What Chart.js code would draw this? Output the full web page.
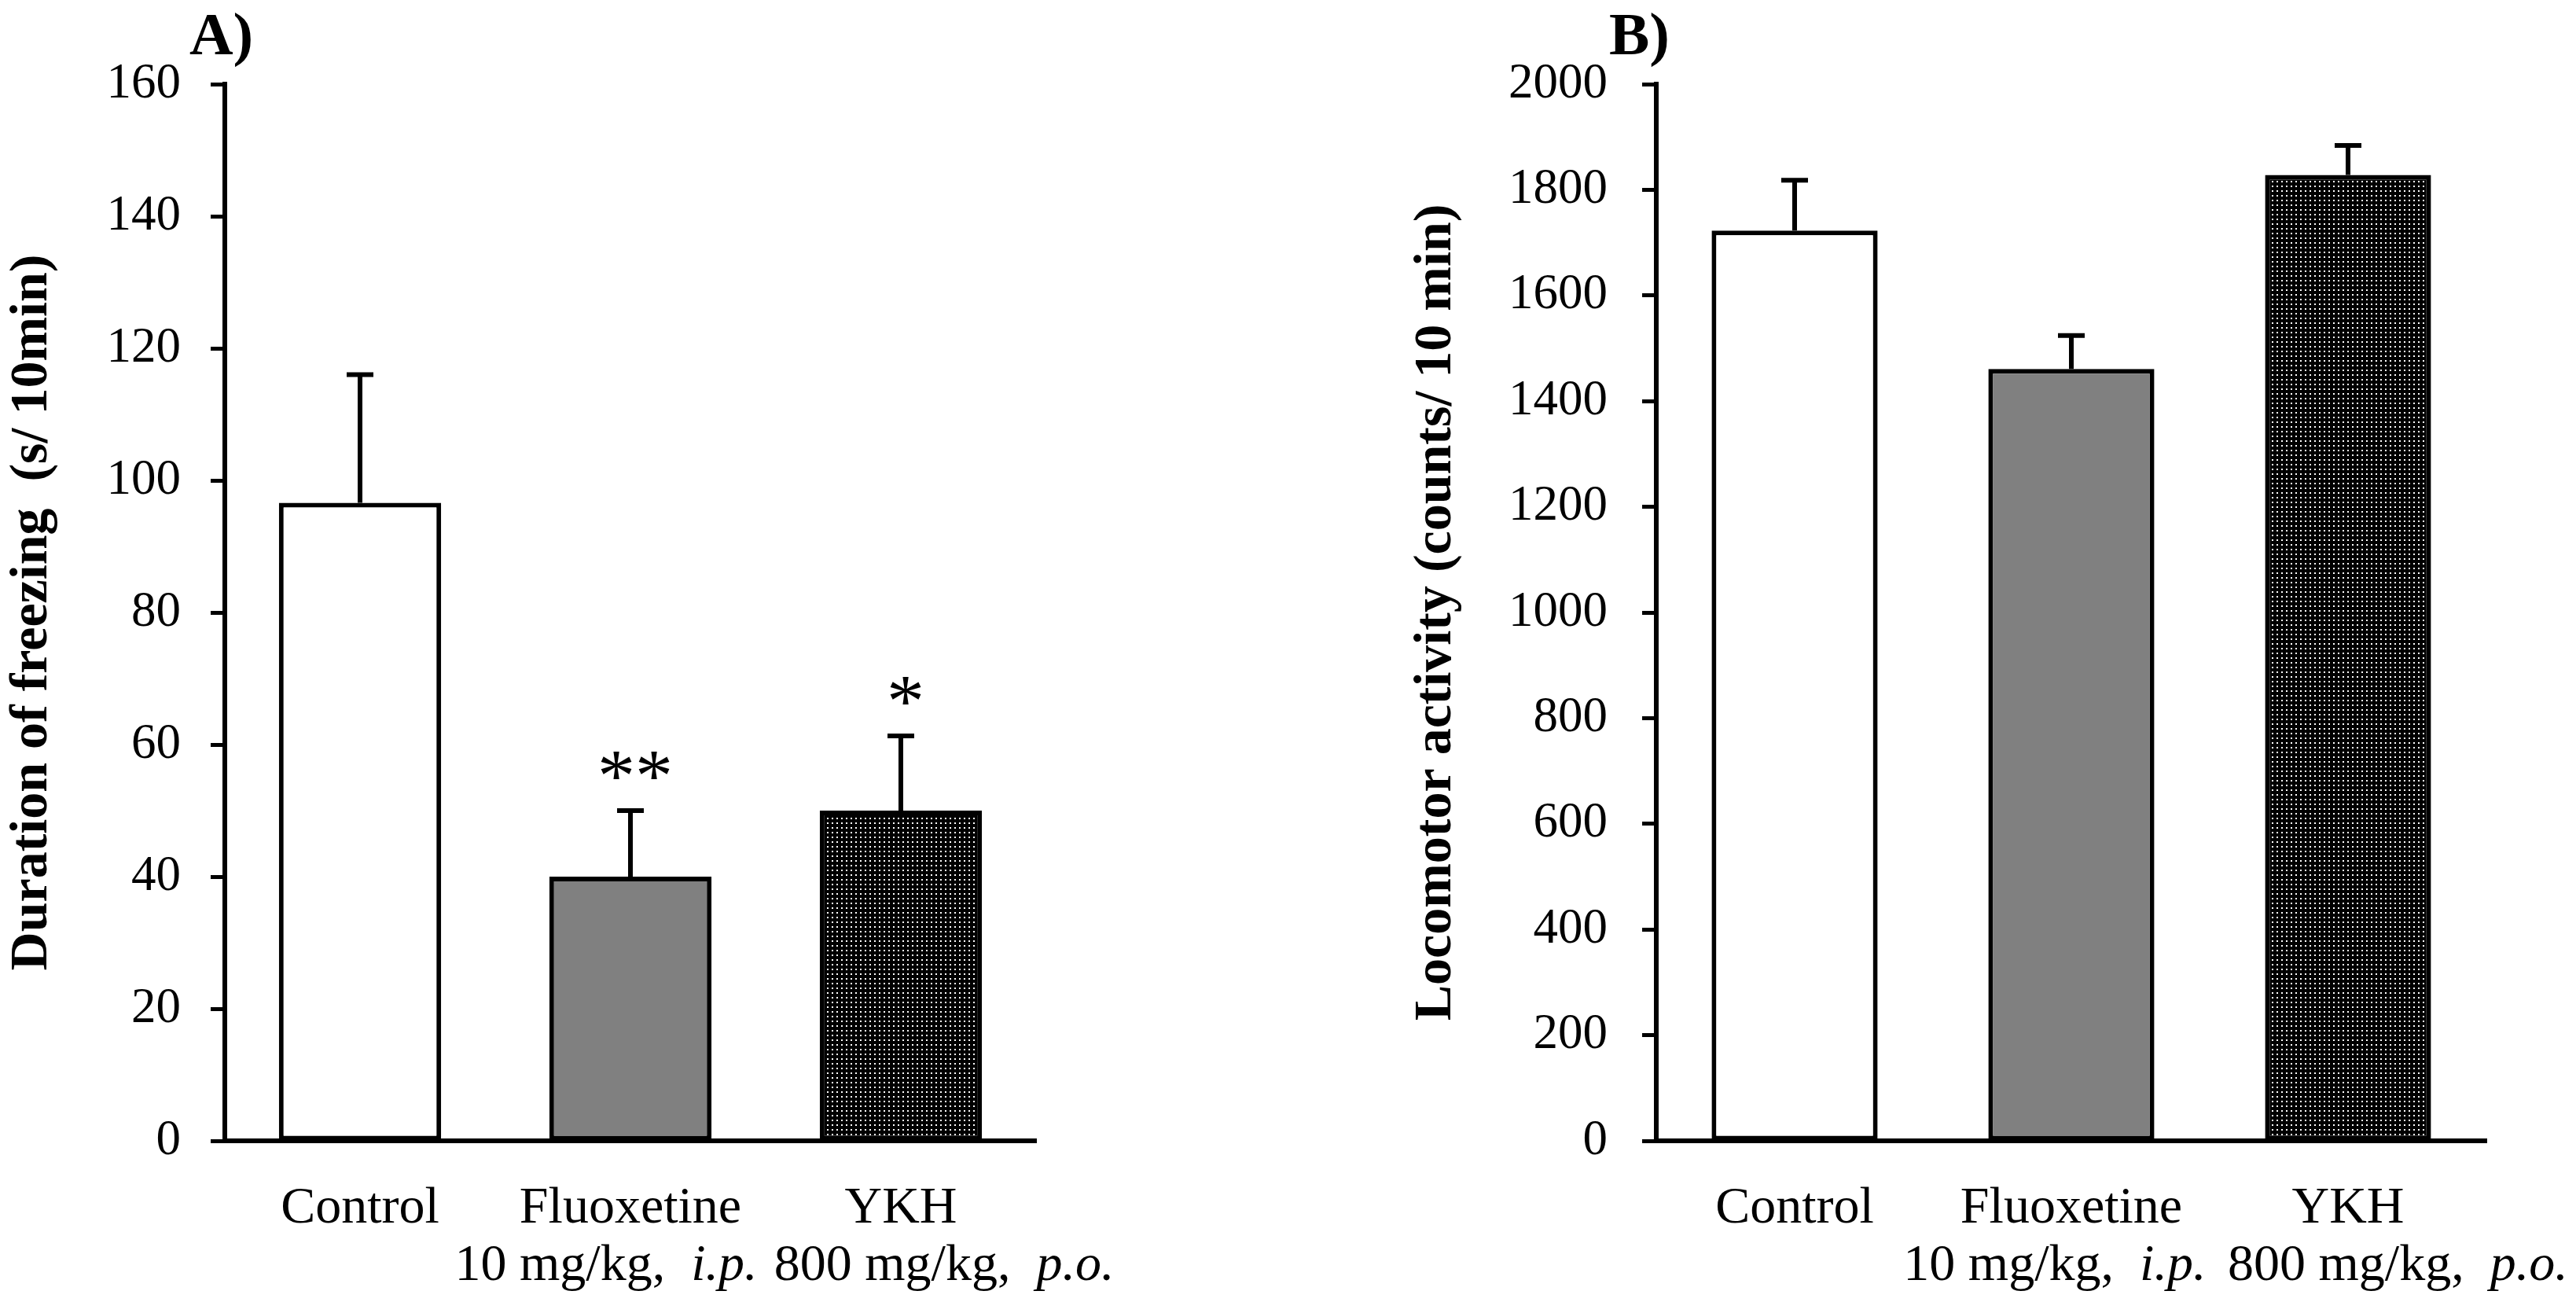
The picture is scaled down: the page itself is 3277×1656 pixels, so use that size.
<!DOCTYPE html>
<html>
<head>
<meta charset="utf-8">
<script src="https://cdn.jsdelivr.net/npm/chart.js@4.4.0/dist/chart.umd.min.js"></script>
<style>
  html, body { margin: 0; padding: 0; background: #fff; }
  #wrap { position: relative; width: 3277px; height: 1656px; background: #fff; }
  canvas { position: absolute; top: 0; }
  #chartA { left: 0; }
  #chartB { left: 1640px; }
</style>
</head>
<body>
<div id="wrap">
  <canvas id="chartA" width="1640" height="1656"></canvas>
  <canvas id="chartB" width="1637" height="1656"></canvas>
</div>
<script>
// groups (first line of the x labels) and dose line (second line)
const groups = ['Control', 'Fluoxetine', 'YKH'];
const doseText = ['', '10 mg/kg,  ', '800 mg/kg,  '];
const doseRoute = ['', 'i.p.', 'p.o.'];

// A) freezing duration
const freezeMean = [96.6, 40, 50];
const freezeSem = [19.4, 10, 11.3];
const freezeStars = ['', '**', '*'];
const freezeTicks = { min: 0, max: 160, step: 20 };

// B) locomotor activity
const locoMean = [1723, 1461, 1828];
const locoSem = [95, 63, 56];
const locoStars = ['', '', ''];
const locoTicks = { min: 0, max: 2000, step: 200 };

const SERIF = '"Liberation Serif", "Times New Roman", serif';

// dotted fill for the YKH bar
function dotPattern() {
    const c = document.createElement('canvas');
    c.width = 6;
    c.height = 6;
    const g = c.getContext('2d');
    g.fillStyle = '#000';
    g.fillRect(0, 0, 6, 6);
    g.fillStyle = '#fff';
    g.fillRect(2, 2, 2, 2);
    return g.createPattern(c, 'repeat');
}

// error bars (upper half only) + significance marks
const errorBarPlugin = {
    id: 'errorBars',
    afterDatasetsDraw(chart, args, opts) {
        const ctx = chart.ctx;
        const meta = chart.getDatasetMeta(0);
        const y = chart.scales.y;
        ctx.save();
        ctx.strokeStyle = '#000';
        ctx.lineWidth = 6;
        meta.data.forEach((bar, i) => {
            const top = y.getPixelForValue(opts.mean[i] + opts.sem[i]);
            const base = y.getPixelForValue(opts.mean[i]);
            ctx.beginPath();
            ctx.moveTo(bar.x, base);
            ctx.lineTo(bar.x, top);
            ctx.moveTo(bar.x - 17, top);
            ctx.lineTo(bar.x + 17, top);
            ctx.stroke();
            if (opts.stars[i]) {
                ctx.fillStyle = '#000';
                ctx.font = '96px ' + SERIF;
                ctx.textAlign = 'center';
                ctx.textBaseline = 'middle';
                ctx.fillText(opts.stars[i], bar.x + 6, top - 37);
            }
        });
        ctx.restore();
    }
};

// x labels with italic route, and the panel letter
const labelPlugin = {
    id: 'groupLabels',
    afterDraw(chart, args, opts) {
        const ctx = chart.ctx;
        const area = chart.chartArea;
        const x = chart.scales.x;
        const catW = (area.right - area.left) / groups.length;
        ctx.save();
        ctx.fillStyle = '#000';
        ctx.textBaseline = 'alphabetic';
        groups.forEach((g, i) => {
            const cx = x.getPixelForValue(i);
            ctx.font = '66px ' + SERIF;
            ctx.textAlign = 'center';
            ctx.fillText(g, cx, area.bottom + 104);
            if (doseText[i]) {
                const normal = '66px ' + SERIF;
                const ital = 'italic 66px ' + SERIF;
                ctx.font = normal;
                const w1 = ctx.measureText(doseText[i]).width;
                ctx.font = ital;
                const w2 = ctx.measureText(doseRoute[i]).width;
                const mid = cx + opts.shift[i] * catW;
                const left = mid - (w1 + w2) / 2;
                ctx.textAlign = 'left';
                ctx.font = normal;
                ctx.fillText(doseText[i], left, area.bottom + 177);
                ctx.font = ital;
                ctx.fillText(doseRoute[i], left + w1, area.bottom + 177);
            }
        });
        ctx.font = 'bold 77px ' + SERIF;
        ctx.textAlign = 'left';
        ctx.fillText(opts.letter, area.left + opts.letterDx, 69);
        ctx.restore();
    }
};

function makeChart(id, cfg) {
    const ctx = document.getElementById(id).getContext('2d');
    return new Chart(ctx, {
        type: 'bar',
        data: {
            labels: groups,
            datasets: [{
                data: cfg.mean,
                backgroundColor: ['#ffffff', '#808080', dotPattern()],
                borderColor: '#000',
                borderWidth: 6,
                borderSkipped: false,
                barPercentage: 0.6,
                categoryPercentage: 1.0
            }]
        },
        options: {
            responsive: false,
            animation: false,
            devicePixelRatio: 1,
            layout: {
                padding: { left: cfg.padLeft, right: cfg.padRight, top: 107, bottom: 0 }
            },
            plugins: {
                legend: { display: false },
                tooltip: { enabled: false },
                errorBars: { mean: cfg.mean, sem: cfg.sem, stars: cfg.stars },
                groupLabels: { letter: cfg.letter, letterDx: cfg.letterDx, shift: cfg.shift }
            },
            scales: {
                x: {
                    grid: { display: false },
                    border: { display: true, color: '#000', width: 6 },
                    ticks: { display: false },
                    afterFit: (s) => { s.height = 205; }
                },
                y: {
                    min: cfg.ticks.min,
                    max: cfg.ticks.max,
                    border: { display: true, color: '#000', width: 6 },
                    grid: {
                        drawOnChartArea: false,
                        drawTicks: true,
                        tickLength: 18,
                        tickWidth: 5,
                        tickColor: '#000'
                    },
                    ticks: {
                        stepSize: cfg.ticks.step,
                        color: '#000',
                        padding: cfg.tickPad,
                        font: { family: SERIF, size: 63 },
                        callback: (v) => String(v)
                    },
                    title: {
                        display: true,
                        text: cfg.title,
                        color: '#000',
                        font: { family: SERIF, size: 68, weight: 'bold' },
                        padding: { top: 1, bottom: 0 }
                    },
                    afterFit: (s) => { s.width = cfg.yWidth; }
                }
            }
        },
        plugins: [errorBarPlugin, labelPlugin]
    });
}

makeChart('chartA', {
    mean: freezeMean, sem: freezeSem, stars: freezeStars, ticks: freezeTicks,
    title: 'Duration of freezing  (s/ 10min)',
    padLeft: 0, yWidth: 286, padRight: 322, tickPad: 38,
    letter: 'A)', letterDx: -45, shift: [0, -0.09, 0.16]
});

makeChart('chartB', {
    mean: locoMean, sem: locoSem, stars: locoStars, ticks: locoTicks,
    title: 'Locomotor activity (counts/ 10 min)',
    padLeft: 146, yWidth: 321, padRight: 114, tickPad: 44,
    letter: 'B)', letterDx: -60, shift: [0, -0.06, 0.18]
});
</script>
</body>
</html>
